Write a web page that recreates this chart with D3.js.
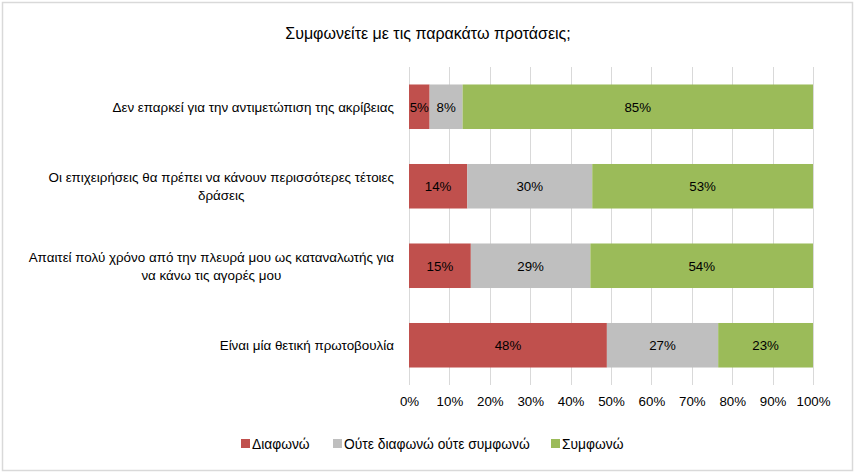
<!DOCTYPE html>
<html>
<head>
<meta charset="utf-8">
<script src="https://cdn.jsdelivr.net/npm/d3@7"></script>
<style>
  body { margin: 0; background: #fff; }
  svg text { font-family: "Liberation Sans", Arial, sans-serif; fill: #000; }
</style>
</head>
<body>
<svg id="chart" width="856" height="474"></svg>
<script>
// chart data
var title = 'Συμφωνείτε με τις παρακάτω προτάσεις;';
var categories = [
  'Δεν επαρκεί για την αντιμετώπιση της ακρίβειας',
  'Οι επιχειρήσεις θα πρέπει να κάνουν περισσότερες τέτοιες δράσεις',
  'Απαιτεί πολύ χρόνο από την πλευρά μου ως καταναλωτής για να κάνω τις αγορές μου',
  'Είναι μία θετική πρωτοβουλία'
];
var seriesNames = ['Διαφωνώ', 'Ούτε διαφωνώ ούτε συμφωνώ', 'Συμφωνώ'];
var disagree = [5, 14, 15, 48];
var neutral = [8, 30, 29, 27];
var agree = [85, 53, 54, 23];
var xTicks = [0, 10, 20, 30, 40, 50, 60, 70, 80, 90, 100];
var colors = ['#C0504D', '#BFBFBF', '#9BBB59'];

var svg = d3.select('#chart');

// outer frame
svg.append('rect')
  .attr('x', 2.5).attr('y', 2.5)
  .attr('width', 850).attr('height', 468)
  .attr('fill', '#fff')
  .attr('stroke', '#D9D9D9')
  .attr('stroke-width', 1.5);

svg.append('text')
  .attr('x', 428).attr('y', 39)
  .attr('text-anchor', 'middle')
  .style('font-size', '16px')
  .text(title);

var x = d3.scaleLinear().domain([0, 100]).range([409, 813]);
var y = d3.scaleBand().domain(categories).range([67, 385]).paddingInner(0.44).paddingOuter(0.22);

// gridlines
svg.append('g')
  .selectAll('line')
  .data(xTicks)
  .enter()
  .append('line')
  .attr('x1', d => Math.round(x(d)) + 0.5)
  .attr('x2', d => Math.round(x(d)) + 0.5)
  .attr('y1', 67).attr('y2', 385)
  .attr('stroke', '#D9D9D9')
  .attr('stroke-width', 1);

// build rows, normalised to 100%
var rows = categories.map((c, i) => {
  var vals = [disagree[i], neutral[i], agree[i]];
  var total = d3.sum(vals);
  var acc = 0;
  return vals.map((v, j) => {
    var seg = { cat: c, value: v, j: j, x0: acc / total * 100 };
    acc += v;
    seg.x1 = acc / total * 100;
    return seg;
  });
});
var segs = d3.merge(rows);

svg.append('g')
  .selectAll('rect')
  .data(segs)
  .enter()
  .append('rect')
  .attr('x', d => x(d.x0))
  .attr('width', d => x(d.x1) - x(d.x0))
  .attr('y', d => y(d.cat))
  .attr('height', y.bandwidth())
  .attr('fill', d => colors[d.j]);

svg.append('g')
  .selectAll('text')
  .data(segs)
  .enter()
  .append('text')
  .attr('x', d => (x(d.x0) + x(d.x1)) / 2)
  .attr('y', d => y(d.cat) + y.bandwidth() / 2 + 5)
  .attr('text-anchor', 'middle')
  .style('font-size', '13.3px')
  .text(d => d.value + '%');

// x axis labels
var xAxis = d3.axisBottom(x)
  .tickValues(xTicks)
  .tickFormat(d => d + '%')
  .tickSize(0)
  .tickPadding(0);
var gx = svg.append('g')
  .attr('transform', 'translate(0,397)')
  .call(xAxis);
gx.select('.domain').remove();
gx.selectAll('text')
  .style('font-size', '13.3px')
  .style('font-family', '"Liberation Sans", Arial, sans-serif');

// category labels, wrapped and centred as a block right-aligned at 395
var maxW = 380;
categories.forEach(c => {
  var g = svg.append('g');
  var words = c.split(' ');
  var lines = [];
  var line = [];
  var probe = g.append('text').style('font-size', '13.4px');
  words.forEach(w => {
    line.push(w);
    probe.text(line.join(' '));
    if (probe.node().getComputedTextLength() > maxW && line.length > 1) {
      line.pop();
      lines.push(line.join(' '));
      line = [w];
    }
  });
  lines.push(line.join(' '));
  var widths = lines.map(l => { probe.text(l); return probe.node().getComputedTextLength(); });
  probe.remove();
  var blockW = d3.max(widths);
  var cx = 394 - blockW / 2;
  var cy = y(c) + y.bandwidth() / 2;
  var lh = 18;
  lines.forEach((l, i) => {
    g.append('text')
      .attr('x', cx)
      .attr('y', cy + 5 + (i - (lines.length - 1) / 2) * lh)
      .attr('text-anchor', 'middle')
      .style('font-size', '13.4px')
      .text(l);
  });
});

// legend
var legendX = [241, 333, 551];
var legend = svg.append('g')
  .selectAll('g')
  .data(seriesNames)
  .enter()
  .append('g')
  .attr('transform', (d, i) => 'translate(' + legendX[i] + ',439)');
legend.append('rect')
  .attr('width', 9).attr('height', 9)
  .attr('fill', (d, i) => colors[i]);
legend.append('text')
  .attr('x', 11).attr('y', 9.5)
  .style('font-size', '13.8px')
  .text(d => d);
</script>
</body>
</html>
